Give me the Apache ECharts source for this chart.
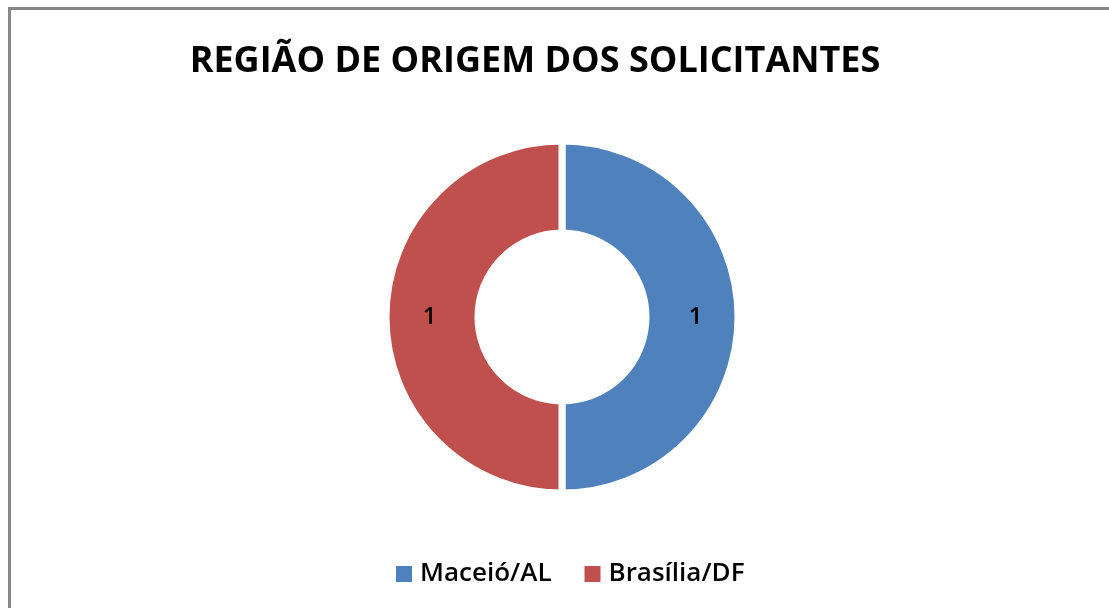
<!DOCTYPE html>
<html>
<head>
<meta charset="utf-8">
<script src="https://cdn.jsdelivr.net/npm/echarts@6/dist/echarts.min.js"></script>
<style>
  html, body { margin: 0; padding: 0; background: #fff; overflow: hidden; width: 1109px; height: 608px; }
  #frame {
    position: absolute; left: 8px; top: 7px; width: 1200px; height: 700px;
    border-left: 3px solid #888; border-top: 3px solid #888; box-sizing: border-box;
  }
  #chart { position: absolute; left: 0; top: 0; width: 1109px; height: 608px; }
</style>
</head>
<body>
<div id="frame"></div>
<div id="chart"></div>
<script>
// dados do gráfico
const regioes = ["Maceió/AL", "Brasília/DF"];
const solicitantes = [1, 1];
const cores = ["#4F81BD", "#C0504D"];

let chartDom = document.getElementById("chart");
let myChart = echarts.init(chartDom);

const option = {
  color: cores,
  title: {
    text: "REGIÃO DE ORIGEM DOS SOLICITANTES",
    left: 530,
    textAlign: "center",
    top: 39,
    textStyle: {
      fontFamily: "Open Sans",
      fontWeight: "bold",
      fontSize: 36,
      color: "#000",
    },
  },
  legend: {
    data: regioes,
    bottom: 16,
    left: 389,
    itemWidth: 18,
    itemHeight: 18,
    itemGap: 31,
    icon: "rect",
    textStyle: {
      fontFamily: "Open Sans",
      fontWeight: 600,
      fontSize: 26,
      color: "#000",
      padding: [0, 0, 0, 2],
    },
  },
  series: [
    {
      type: "pie",
      center: [562, 317],
      radius: [84, 176],
      startAngle: 90,
      clockwise: true,
      silent: true,
      itemStyle: {
        borderColor: "#fff",
        borderWidth: 7,
      },
      label: {
        position: "inside",
        formatter: "{c}",
        fontFamily: "Open Sans",
        fontWeight: 600,
        fontSize: 24,
        color: "#000",
        padding: [4, 0, 0, 1],
      },
      labelLine: { show: false },
      data: regioes.map((r, i) => ({ name: r, value: solicitantes[i] })),
    },
  ],
};

myChart.setOption(option);
</script>
</body>
</html>
